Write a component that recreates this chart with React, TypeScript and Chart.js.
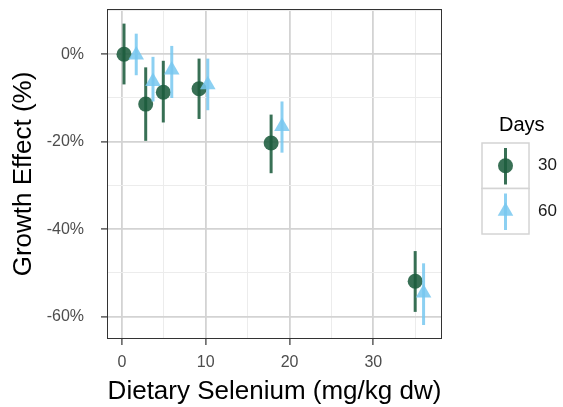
import React, { useEffect, useRef } from "react";
import { Chart, registerables } from "chart.js";

Chart.register(...registerables);

// Legend entries (sampling day)
const seriesNames = ["30", "60"];

// Day 30: dietary selenium (x), growth effect (%) and its interval
const day30Selenium = [0.24, 2.83, 4.93, 9.2, 17.8, 35.0];
const day30Effect = [0, -11.4, -8.7, -7.9, -20.3, -51.9];
const day30Lower = [-6.9, -19.8, -15.6, -14.8, -27.2, -58.9];
const day30Upper = [7.0, -3.0, -1.5, -1.0, -13.8, -45.0];

// Day 60
const day60Selenium = [1.7, 3.7, 5.94, 10.24, 19.1, 36.0];
const day60Effect = [-0.2, -6.25, -3.6, -7.0, -16.5, -54.6];
const day60Lower = [-4.8, -10.8, -10.0, -12.8, -22.5, -61.9];
const day60Upper = [4.7, -0.6, 1.9, -1.0, -10.8, -47.8];

// Grid breaks (major every 10 / 20, minor in between)
const xBreaks = [0, 5, 10, 15, 20, 25, 30, 35];
const yBreaks = [-60, -50, -40, -30, -20, -10, 0, 10];

const GREEN = "rgba(28, 92, 62, 0.88)";
const BLUE = "rgba(120, 200, 240, 0.85)";
const FONT = "'Liberation Sans', Arial, Helvetica, sans-serif";

const isMajorX = (v: number) => v % 10 === 0;
const isMajorY = (v: number) => v % 20 === 0;

const errorBarPlugin = {
  id: "errorBars",
  beforeDatasetDraw(chart: any, args: any) {
    const ds = chart.data.datasets[args.index];
    if (!ds.lower) return;
    const { ctx, scales } = chart;
    const xs = scales.x;
    const ys = scales.y;
    ctx.save();
    ctx.strokeStyle = ds.barColor;
    ctx.lineWidth = 3;
    ds.data.forEach((p: any, i: number) => {
      const px = xs.getPixelForValue(p.x);
      ctx.beginPath();
      ctx.moveTo(px, ys.getPixelForValue(ds.upper[i]));
      ctx.lineTo(px, ys.getPixelForValue(ds.lower[i]));
      ctx.stroke();
    });
    ctx.restore();
  },
};

const frameAndLegendPlugin = {
  id: "frameAndLegend",
  afterDraw(chart: any) {
    const { ctx, chartArea } = chart;
    ctx.save();
    // panel border
    ctx.strokeStyle = "#333333";
    ctx.lineWidth = 1;
    ctx.strokeRect(
      chartArea.left + 0.5,
      chartArea.top + 0.5,
      chartArea.right - chartArea.left - 1,
      chartArea.bottom - chartArea.top - 1
    );

    // legend
    ctx.fillStyle = "#000";
    ctx.font = `20px ${FONT}`;
    ctx.textBaseline = "middle";
    ctx.textAlign = "left";
    ctx.fillText("Days", 499, 125);

    const keyLeft = 482;
    const keyW = 47;
    const keyH = 45.5;
    const keyTop = 143;
    const colors = [GREEN, BLUE];
    const shapes = ["circle", "triangle"];
    seriesNames.forEach((name, i) => {
      const top = keyTop + i * keyH;
      ctx.fillStyle = "#ffffff";
      ctx.fillRect(keyLeft, top, keyW, keyH);
      ctx.strokeStyle = "#d4d4d4";
      ctx.lineWidth = 1.5;
      ctx.strokeRect(keyLeft, top, keyW, keyH);
      const cx = keyLeft + keyW / 2;
      const cy = top + keyH / 2;
      ctx.strokeStyle = colors[i];
      ctx.lineWidth = 3;
      ctx.beginPath();
      ctx.moveTo(cx, top + 5);
      ctx.lineTo(cx, top + keyH - 4);
      ctx.stroke();
      ctx.fillStyle = colors[i];
      ctx.beginPath();
      if (shapes[i] === "circle") {
        ctx.arc(cx, cy, 7.5, 0, Math.PI * 2);
      } else {
        const r = 9;
        ctx.moveTo(cx, cy - r);
        ctx.lineTo(cx + r * Math.sin(Math.PI / 3), cy + r / 2);
        ctx.lineTo(cx - r * Math.sin(Math.PI / 3), cy + r / 2);
        ctx.closePath();
      }
      ctx.fill();
      ctx.fillStyle = "#1a1a1a";
      ctx.font = `17px ${FONT}`;
      ctx.fillText(name, 538, cy);
    });
    ctx.restore();
  },
};

export default function App() {
  const canvasRef = useRef<HTMLCanvasElement | null>(null);

  useEffect(() => {
    if (!canvasRef.current) return;
    const chart = new Chart(canvasRef.current, {
      type: "scatter",
      data: {
        datasets: [
          {
            label: seriesNames[0],
            data: day30Selenium.map((x, i) => ({ x, y: day30Effect[i] })),
            lower: day30Lower,
            upper: day30Upper,
            barColor: GREEN,
            backgroundColor: GREEN,
            borderWidth: 0,
            pointStyle: "circle",
            pointRadius: 7.5,
            order: 1,
          } as any,
          {
            label: seriesNames[1],
            data: day60Selenium.map((x, i) => ({ x, y: day60Effect[i] })),
            lower: day60Lower,
            upper: day60Upper,
            barColor: BLUE,
            backgroundColor: BLUE,
            borderWidth: 0,
            pointStyle: "triangle",
            pointRadius: 9,
            order: 0,
          } as any,
        ],
      },
      options: {
        animation: false,
        responsive: false,
        devicePixelRatio: 1,
        layout: { padding: { left: 0, top: 7, right: 121, bottom: 0 } },
        plugins: {
          legend: { display: false },
          tooltip: { enabled: false },
        },
        scales: {
          x: {
            type: "linear",
            min: -1.79,
            max: 38.2,
            afterBuildTicks: (s: any) => {
              s.ticks = xBreaks.map((v) => ({ value: v }));
            },
            afterFit: (s: any) => {
              s.height = 68;
              s.paddingLeft = 0;
              s.paddingRight = 0;
            },
            ticks: {
              autoSkip: false,
              maxRotation: 0,
              padding: 8,
              color: "#4d4d4d",
              font: { family: FONT, size: 16 },
              callback: (v: any) => (isMajorX(Number(v)) ? String(v) : ""),
            },
            grid: {
              color: (c: any) => (isMajorX(c.tick.value) ? "#d3d3d3" : "#ececec"),
              lineWidth: (c: any) => (isMajorX(c.tick.value) ? 1.8 : 1),
              tickColor: (c: any) => (isMajorX(c.tick.value) ? "#333333" : "rgba(0,0,0,0)"),
              tickLength: 6,
              tickWidth: 1.2,
            },
            border: { display: false },
            title: {
              display: true,
              text: "Dietary Selenium (mg/kg dw)",
              color: "#000",
              font: { family: FONT, size: 26 },
              padding: 0,
            },
          },
          y: {
            type: "linear",
            min: -65.1,
            max: 10.34,
            afterBuildTicks: (s: any) => {
              s.ticks = yBreaks.map((v) => ({ value: v }));
            },
            afterFit: (s: any) => {
              s.width = 107;
              s.paddingTop = 0;
              s.paddingBottom = 0;
            },
            ticks: {
              autoSkip: false,
              padding: 17,
              color: "#4d4d4d",
              font: { family: FONT, size: 16 },
              callback: (v: any) => (isMajorY(Number(v)) ? `${v}%` : ""),
            },
            grid: {
              color: (c: any) => (isMajorY(c.tick.value) ? "#d3d3d3" : "#ececec"),
              lineWidth: (c: any) => (isMajorY(c.tick.value) ? 1.8 : 1),
              tickColor: (c: any) => (isMajorY(c.tick.value) ? "#333333" : "rgba(0,0,0,0)"),
              tickLength: 6,
              tickWidth: 1.2,
            },
            border: { display: false },
            title: {
              display: true,
              text: "Growth Effect (%)",
              color: "#000",
              font: { family: FONT, size: 26 },
              padding: 8,
            },
          },
        },
      } as any,
      plugins: [errorBarPlugin, frameAndLegendPlugin],
    });
    return () => chart.destroy();
  }, []);

  return (
    <div style={{ position: "fixed", left: 0, top: 0, width: 563, height: 407, background: "#fff" }}>
      <canvas ref={canvasRef} width={563} height={407} style={{ display: "block" }} />
    </div>
  );
}
